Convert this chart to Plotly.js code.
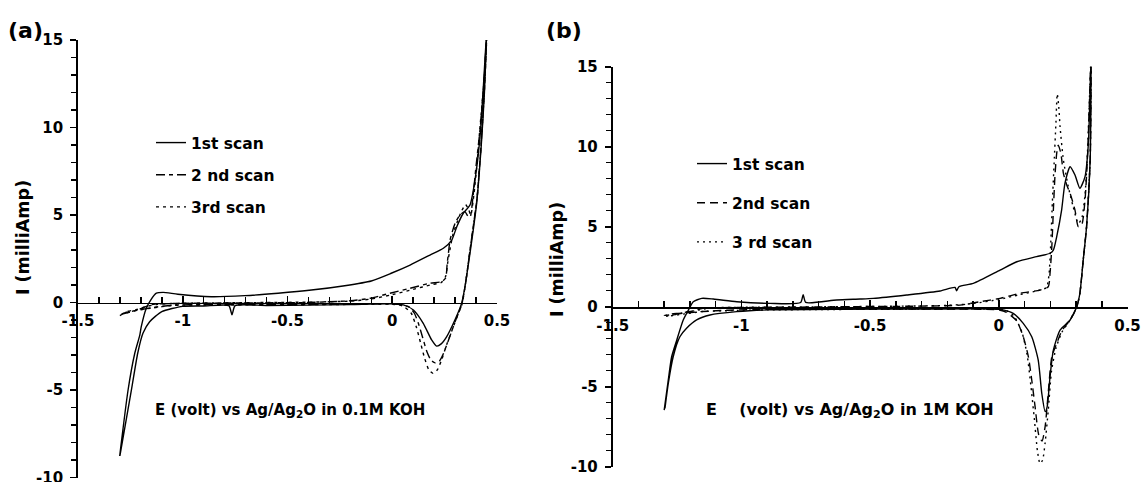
<!DOCTYPE html>
<html>
<head>
<meta charset="utf-8">
<script src="https://cdn.plot.ly/plotly-3.0.1.min.js"></script>
<style>html,body{margin:0;padding:0;background:#fff;}#chart{width:1143px;height:482px;}</style>
</head>
<body>
<div id="chart"></div>
<script>
// ---- Panel (a): 0.1M KOH ----
const aScan1E = [-1.301,-1.261,-1.229,-1.205,-1.198,-1.174,-1.153,-1.126,-1.094,-1.023,-0.864,-0.704,-0.545,-0.386,-0.227,-0.10,-0.005,0.085,0.180,0.244,0.284,0.308,0.339,0.371,0.395,0.419,0.435,0.451,
  0.440,0.425,0.403,0.385,0.371,0.347,0.331,0.299,0.260,0.235,0.212,0.188,0.148,0.101,0.053,-0.011,-0.2,-0.4,-0.6,-0.75,-0.765,-0.78,-0.9,-1.0,-1.10,-1.158,-1.19,-1.215,-1.245,-1.30];
const aScan1I = [-8.77,-5.0,-2.9,-1.86,-1.38,-0.33,0.14,0.53,0.58,0.47,0.33,0.39,0.53,0.71,0.96,1.23,1.67,2.14,2.71,3.10,3.57,4.33,5.10,5.57,7.0,9.47,12.33,15.57,
  12.0,9.0,5.67,4.0,2.81,0.90,-0.05,-1.0,-1.95,-2.35,-2.49,-2.14,-1.19,-0.43,-0.14,-0.08,-0.12,-0.15,-0.17,-0.18,-0.7,-0.18,-0.2,-0.22,-0.52,-1.10,-1.76,-2.9,-5.0,-8.77];
const aScan2E = [-1.30,-1.27,-1.24,-1.20,-1.15,-1.0,-0.8,-0.6,-0.4,-0.2,-0.106,-0.011,0.085,0.180,0.236,0.255,0.262,0.268,0.276,0.30,0.323,0.347,0.363,0.372,0.385,0.40,0.42,0.437,0.452,
  0.44,0.425,0.405,0.385,0.37,0.35,0.332,0.30,0.27,0.245,0.225,0.205,0.185,0.165,0.145,0.125,0.105,0.08,0.04,0.0,-0.3,-0.6,-0.9,-1.05,-1.15,-1.22,-1.30];
const aScan2I = [-0.75,-0.55,-0.5,-0.35,-0.12,-0.05,-0.03,-0.02,0.0,0.1,0.24,0.53,0.81,1.10,1.19,1.4,2.2,2.81,3.57,4.53,5.0,5.19,4.9,4.9,6.0,7.8,10.0,12.5,15.5,
  12.2,9.2,6.0,4.2,2.9,1.1,-0.1,-1.1,-2.1,-2.9,-3.35,-3.45,-3.3,-2.8,-2.0,-1.2,-0.6,-0.25,-0.12,-0.08,-0.1,-0.12,-0.13,-0.15,-0.3,-0.45,-0.7];
const aScan3E = [-1.29,-1.26,-1.22,-1.18,-1.12,-1.0,-0.8,-0.6,-0.4,-0.2,-0.1,0.0,0.1,0.18,0.235,0.255,0.265,0.275,0.29,0.31,0.33,0.35,0.365,0.375,0.39,0.405,0.42,0.438,0.452,
  0.44,0.425,0.405,0.385,0.37,0.35,0.333,0.31,0.285,0.26,0.235,0.215,0.195,0.175,0.155,0.135,0.115,0.09,0.05,0.0,-0.3,-0.6,-0.9,-1.05,-1.15,-1.22,-1.29];
const aScan3I = [-0.65,-0.5,-0.4,-0.25,-0.1,-0.04,-0.02,0.0,0.02,0.08,0.2,0.45,0.75,1.0,1.15,1.5,2.3,3.0,3.9,4.6,5.2,5.6,5.3,5.0,6.2,8.0,10.2,12.6,15.5,
  12.2,9.2,6.0,4.2,2.9,1.1,-0.1,-0.8,-1.6,-2.4,-3.3,-3.85,-4.05,-3.85,-3.2,-2.3,-1.4,-0.6,-0.2,-0.1,-0.12,-0.13,-0.14,-0.17,-0.32,-0.45,-0.65];

// ---- Panel (b): 1M KOH ----
const bScan1E = [-1.300,-1.284,-1.271,-1.251,-1.226,-1.206,-1.187,-1.154,-1.109,-1.018,-0.889,-0.77,-0.76,-0.75,-0.630,-0.539,-0.488,-0.358,-0.228,-0.17,-0.164,-0.155,-0.099,0.005,0.070,0.147,0.199,0.212,0.225,0.244,0.257,0.277,0.296,0.315,0.335,0.348,0.358,
  0.355,0.341,0.328,0.315,0.303,0.277,0.238,0.212,0.199,0.188,0.180,0.167,0.153,0.128,0.095,0.056,0.005,-0.3,-0.6,-0.9,-1.018,-1.122,-1.174,-1.213,-1.239,-1.265,-1.284,-1.297];
const bScan1I = [-6.46,-4.58,-3.13,-2.08,-0.83,-0.21,0.31,0.52,0.48,0.31,0.21,0.26,0.75,0.27,0.42,0.48,0.52,0.73,0.98,1.2,1.0,1.25,1.46,2.29,2.81,3.13,3.34,3.54,4.38,6.04,7.71,8.75,8.23,7.40,8.13,10.2,15.4,
  9.2,5.0,2.92,0.84,0.0,-0.83,-1.46,-2.71,-4.38,-6.25,-6.56,-5.42,-3.33,-1.88,-1.04,-0.42,-0.17,-0.15,-0.16,-0.2,-0.31,-0.52,-0.83,-1.35,-1.88,-3.13,-4.79,-6.35];
const bScan2E = [-1.30,-1.27,-1.24,-1.20,-1.15,-1.0,-0.8,-0.6,-0.4,-0.2,-0.151,-0.073,0.005,0.082,0.160,0.192,0.199,0.206,0.212,0.218,0.225,0.231,0.241,0.251,0.264,0.277,0.296,0.309,0.322,0.335,0.345,0.358,
  0.355,0.341,0.328,0.315,0.303,0.277,0.245,0.225,0.206,0.193,0.180,0.168,0.155,0.141,0.128,0.115,0.095,0.07,0.03,0.0,-0.3,-0.6,-0.9,-1.05,-1.15,-1.22,-1.30];
const bScan2I = [-0.55,-0.45,-0.4,-0.3,-0.1,-0.05,-0.03,0.0,0.02,0.06,0.10,0.31,0.52,0.84,1.04,1.25,2.08,3.75,6.04,8.13,9.6,10.1,9.6,8.34,7.6,7.09,6.04,5.0,5.1,6.67,9.5,15.4,
  9.2,5.0,2.92,0.84,0.0,-0.83,-1.5,-2.3,-3.13,-5.2,-7.5,-8.4,-8.0,-6.25,-4.58,-3.13,-1.88,-0.9,-0.35,-0.2,-0.15,-0.15,-0.17,-0.22,-0.3,-0.4,-0.55];
const bScan3E = [-1.29,-1.26,-1.22,-1.18,-1.12,-1.0,-0.8,-0.6,-0.4,-0.2,-0.1,0.0,0.08,0.15,0.185,0.195,0.202,0.208,0.215,0.222,0.227,0.233,0.238,0.251,0.270,0.289,0.309,0.322,0.335,0.345,0.358,
  0.355,0.341,0.328,0.315,0.303,0.277,0.245,0.222,0.205,0.192,0.18,0.17,0.16,0.15,0.138,0.125,0.11,0.09,0.06,0.03,0.0,-0.3,-0.6,-0.9,-1.05,-1.15,-1.22,-1.29];
const bScan3I = [-0.6,-0.5,-0.35,-0.25,-0.08,-0.04,-0.02,0.0,0.03,0.08,0.2,0.45,0.75,1.0,1.2,2.0,4.0,6.5,9.0,11.5,13.3,12.5,11.25,9.17,7.5,6.25,5.2,5.5,7.0,9.8,15.4,
  9.2,5.0,2.92,0.84,0.0,-0.83,-1.6,-2.6,-4.0,-6.5,-8.5,-9.6,-9.8,-9.0,-7.0,-5.0,-3.0,-1.6,-0.6,-0.25,-0.15,-0.15,-0.17,-0.2,-0.25,-0.3,-0.45,-0.6];

// ---- Labels ----
const aNames = ['1st scan', '2 nd scan', '3rd scan'];
const bNames = ['1st scan', '2nd scan', '3 rd scan'];
const xTickVals = [-1.5, -1, -0.5, 0, 0.5];
const xTickText = ['-1.5', '-1', '-0.5', '0', '0.5'];
const yTickVals = [-10, -5, 0, 5, 10, 15];
const yTickText = ['-10', '-5', '0', '5', '10', '15'];
const yTitle = 'I (milliAmp)';
const aXTitle = 'E (volt) vs Ag/Ag<sub>2</sub>O in 0.1M KOH';
const bXTitle = 'E\u00a0\u00a0\u00a0 (volt) vs Ag/Ag<sub>2</sub>O in 1M KOH';

const FONT = 'DejaVu Sans, Liberation Sans, Arial, sans-serif';
const W = 1143, H = 482;
const B = s => '<b>' + s + '</b>';

function tr(x, y, name, dash, xa, ya, leg, grp) {
  return {x: x, y: y, name: B(name), type: 'scatter', mode: 'lines', xaxis: xa, yaxis: ya,
    legend: leg, legendgroup: grp,
    line: {color: '#000', width: 1.4, dash: dash, shape: 'spline', smoothing: 0.6}};
}

const data = [
  tr(aScan1E, aScan1I, aNames[0], 'solid', 'x', 'y', 'legend', 'a1'),
  tr(aScan2E, aScan2I, aNames[1], '9px,4px,4px,4px', 'x', 'y', 'legend', 'a2'),
  tr(aScan3E, aScan3I, aNames[2], '3px,4px', 'x', 'y', 'legend', 'a3'),
  tr(bScan1E, bScan1I, bNames[0], 'solid', 'x2', 'y2', 'legend2', 'b1'),
  tr(bScan2E, bScan2I, bNames[1], '8px,5px', 'x2', 'y2', 'legend2', 'b2'),
  tr(bScan3E, bScan3I, bNames[2], '2px,4px', 'x2', 'y2', 'legend2', 'b3')
];

const tickFont = {family: FONT, size: 15, color: '#000', weight: 'bold'};

function xAx(domain, pos) {
  return {domain: domain, range: [-1.5, 0.5], anchor: 'free', position: pos,
    tickmode: 'array', tickvals: xTickVals, ticktext: xTickText.map(B),
    ticks: 'inside', ticklen: 7, tickwidth: 1.8, tickcolor: '#000',
    minor: {dtick: 0.1, tick0: 0, ticks: 'inside', ticklen: 6, tickwidth: 1.5, tickcolor: '#000', showgrid: false},
    showline: true, linecolor: '#000', linewidth: 1.9, showgrid: false, zeroline: false,
    tickfont: tickFont, ticklabelstandoff: 4, ticklabeloverflow: 'allow', fixedrange: true};
}
function yAx(domain, anchor) {
  return {domain: domain, range: [-10.001, 15.001], anchor: anchor,
    tickmode: 'array', tickvals: yTickVals, ticktext: yTickText.map(B),
    ticks: 'outside', ticklen: 6, tickwidth: 1.8, tickcolor: '#000',
    minor: {dtick: 1, tick0: 0, ticks: 'outside', ticklen: 5, tickwidth: 1.5, tickcolor: '#000', showgrid: false},
    showline: true, linecolor: '#000', linewidth: 1.9, showgrid: false, zeroline: false,
    tickfont: tickFont, ticklabelstandoff: 4, ticklabeloverflow: 'allow', fixedrange: true};
}

const legFont = {family: FONT, size: 15.5, color: '#000', weight: 'bold'};
function ann(text, xpx, ypx, size, angle) {
  return {text: B(text), xref: 'paper', yref: 'paper', x: xpx / W, y: 1 - ypx / H, showarrow: false,
    textangle: angle || 0, xanchor: 'center', yanchor: 'middle',
    font: {family: FONT, size: size, color: '#000', weight: 'bold'}};
}

const layout = {
  width: W, height: H, margin: {l: 0, r: 0, t: 0, b: 0},
  paper_bgcolor: '#fff', plot_bgcolor: 'rgba(0,0,0,0)',
  showlegend: true,
  xaxis: xAx([78 / W, 497 / W], 1 - 302.5 / H),
  yaxis: yAx([1 - 477.5 / H, 1 - 40 / H], 'x'),
  xaxis2: xAx([612.7 / W, 1127.5 / W], 1 - 306.7 / H),
  yaxis2: yAx([1 - 466.7 / H, 1 - 66.7 / H], 'x2'),
  legend: {x: 151 / W, y: 1 - 126 / H, xanchor: 'left', yanchor: 'top', bgcolor: 'rgba(0,0,0,0)',
    font: legFont, traceorder: 'grouped', tracegroupgap: 9, itemwidth: 30, borderwidth: 0},
  legend2: {x: 692 / W, y: 1 - 147 / H, xanchor: 'left', yanchor: 'top', bgcolor: 'rgba(0,0,0,0)',
    font: legFont, traceorder: 'grouped', tracegroupgap: 16, itemwidth: 30, borderwidth: 0},
  annotations: [
    ann('(a)', 25, 30, 22),
    ann('(b)', 564, 30, 22),
    ann(yTitle, 23, 238, 17.5, -90),
    ann(yTitle, 557, 260, 17.5, -90),
    ann(aXTitle, 290, 410, 15),
    ann(bXTitle, 850, 410, 16)
  ]
};

Plotly.newPlot('chart', data, layout, {staticPlot: true, displayModeBar: false});
</script>
</body>
</html>
